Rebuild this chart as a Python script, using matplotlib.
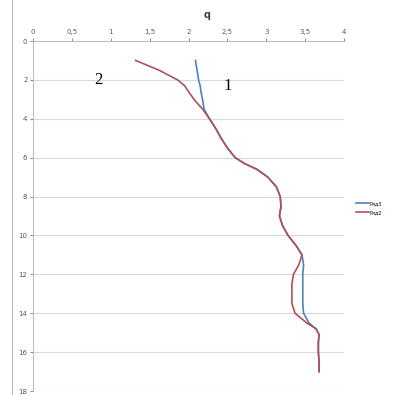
import matplotlib.pyplot as plt
import matplotlib.lines as mlines

# глубина (ось y, вниз) и q (ось x)
depth = [1.0, 1.5, 2.0, 2.3, 2.6, 3.0, 3.5, 4.0, 4.5, 5.0, 5.5, 6.0, 6.3, 6.6, 7.0,
         7.5, 8.0, 8.5, 9.0, 9.5, 10.0, 10.5, 11.0, 11.5, 12.0, 12.5, 13.0, 13.5,
         14.0, 14.5, 14.8, 15.1, 15.5, 16.0, 16.5, 17.0]
q_row2 = [1.32, 1.62, 1.86, 1.95, 2.00, 2.07, 2.18, 2.27, 2.35, 2.42, 2.50, 2.60, 2.72,
          2.88, 3.02, 3.13, 3.18, 3.19, 3.17, 3.21, 3.28, 3.38, 3.46, 3.42, 3.35, 3.33,
          3.33, 3.33, 3.37, 3.52, 3.64, 3.68, 3.67, 3.67, 3.68, 3.68]
q_row3 = [2.09, 2.11, 2.13, 2.15, 2.16, 2.18, 2.20, 2.27, 2.35, 2.42, 2.50, 2.60, 2.72,
          2.88, 3.02, 3.13, 3.18, 3.19, 3.17, 3.21, 3.28, 3.38, 3.46, 3.48, 3.47, 3.47,
          3.47, 3.47, 3.48, 3.55, 3.64, 3.68, 3.67, 3.67, 3.68, 3.68]
names = ['Ряд3', 'Ряд2']
x_ticks = [0, 0.5, 1, 1.5, 2, 2.5, 3, 3.5, 4]
x_labels = ['0', '0,5', '1', '1,5', '2', '2,5', '3', '3,5', '4']
y_ticks = list(range(0, 19, 2))

fig = plt.figure(figsize=(3.95, 3.95), dpi=100)
ax = fig.add_axes([33/395, 1 - 391/395, (344 - 33)/395, (391 - 41)/395])

ax.plot(q_row3, depth, color='#4f81bd', lw=1.2, label=names[0], solid_joinstyle='round')
ax.plot(q_row2, depth, color='#b0505c', lw=1.2, label=names[1], solid_joinstyle='round')

ax.set_xlim(0, 4)
ax.set_ylim(18, 0)
ax.xaxis.tick_top()
ax.set_xticks(x_ticks)
ax.set_xticklabels(x_labels)
ax.set_yticks(y_ticks)
ax.tick_params(labelsize=5, colors='#595959', length=2, width=0.5, pad=2)
ax.grid(axis='y', color='#d9d9d9', lw=0.8)
for s in ['bottom', 'right']:
    ax.spines[s].set_visible(False)
for s in ['top', 'left']:
    ax.spines[s].set_color('#bfbfbf')
    ax.spines[s].set_linewidth(0.8)

fig.text(207/395, 1 - 15/395, 'q', fontsize=7, fontweight='bold', ha='center', va='center', color='#404040')

# подписи кривых
fig.text(98/395, 1 - 80/395, '2', fontsize=12, family='Liberation Serif', ha='center', va='center')
fig.text(228/395, 1 - 86/395, '1', fontsize=12, family='Liberation Serif', ha='center', va='center')

# рамка области диаграммы слева
fig.add_artist(mlines.Line2D([12/395, 12/395], [0, 1], color='#bfbfbf', lw=0.8))

leg = ax.legend(loc='center left', bbox_to_anchor=(352/395, 1 - 208/395),
                bbox_transform=fig.transFigure, frameon=False, fontsize=3.5,
                handlelength=2.5, labelspacing=0.8, handletextpad=0.3)

fig.savefig('out.png', dpi=100, facecolor='white')
